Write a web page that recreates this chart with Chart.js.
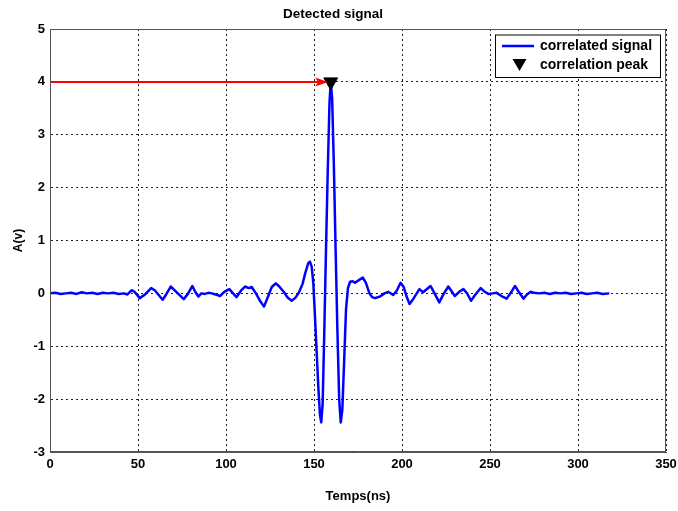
<!DOCTYPE html>
<html>
<head>
<meta charset="utf-8">
<script src="https://cdn.jsdelivr.net/npm/chart.js@4.4.1/dist/chart.umd.min.js"></script>
<style>
  html, body { margin: 0; padding: 0; background: #fff; }
  #wrap { width: 678px; height: 511px; }
</style>
</head>
<body>
<div id="wrap"><canvas id="signalChart"></canvas></div>
<script>
// Values
const timeNs = [
  0, 3, 6, 9, 12, 15, 18, 21, 24, 27, 30, 33, 36, 39, 42, 44,
  46.5, 48, 51, 54, 57.5, 59.5, 64, 66, 68.6, 71, 76, 78.5, 80.9, 82.5, 84.3,
  86, 88, 90, 92, 94, 96.6, 99, 101.9, 104, 106, 108.5, 110.8, 113, 114.6,
  117, 119.5, 121.6, 124, 126, 128.3, 130, 133, 135, 137.3, 139.5, 141.5,
  143.5, 145, 146.7, 147.7, 148.7, 149.6, 150.5, 151.5, 152.5, 153.4, 154.1,
  154.9, 155.8, 156.8, 157.8, 158.8, 159.5, 160.3, 161.3, 162.3, 163.3, 164.3,
  165.2, 166.1, 167.1, 168.2, 169.3, 170.5, 172, 173.3, 175.5, 177.7, 179.5,
  181.5, 183, 184.7, 187.5, 190, 192.2, 195, 197, 199.2, 201, 202.5, 204.3,
  206.5, 209.9, 212, 216.2, 218.5, 221.2, 223.5, 226.3, 228, 230, 232.5,
  234.9, 237, 239.2, 241.5, 244.7, 247, 249, 251.5, 253.8, 256.5, 259.5, 262,
  264.2, 266.5, 269, 271, 273.1, 275, 278, 281, 284, 287, 290, 293, 296, 299,
  302, 305, 308, 311, 314, 317.8
];
const amplitude = [
  0.0, 0.01, -0.01, 0.0, 0.01, -0.01, 0.02, 0.0, 0.01, -0.01, 0.01, 0.0, 0.01, -0.01, 0.0, -0.02,
  0.06, 0.03, -0.09, -0.02, 0.1, 0.06, -0.12, -0.02, 0.13, 0.05, -0.11, 0.0, 0.14, 0.03, -0.06,
  0.0, -0.01, 0.01, 0.0, -0.02, -0.05, 0.03, 0.08, 0.0, -0.07, 0.05, 0.13, 0.1, 0.12,
  0.0, -0.15, -0.25, -0.05, 0.12, 0.19, 0.14, 0.02, -0.08, -0.14, -0.08, 0.02,
  0.18, 0.38, 0.57, 0.6, 0.5, 0.2, -0.4, -1.1, -1.8, -2.3, -2.44,
  -2.1, -0.8, 0.8, 2.3, 3.6, 4.0, 3.7, 2.4, 0.8, -0.7, -2.0,
  -2.44, -2.2, -1.3, -0.3, 0.1, 0.22, 0.23, 0.2, 0.25, 0.3, 0.2,
  0.0, -0.07, -0.09, -0.06, 0.0, 0.03, -0.03, 0.05, 0.2, 0.12, -0.05, -0.2,
  -0.1, 0.08, 0.02, 0.14, 0.0, -0.17, -0.02, 0.13, 0.05, -0.05, 0.03,
  0.08, 0.0, -0.14, -0.03, 0.1, 0.03, -0.01, 0.0, 0.01, -0.05, -0.1, 0.02,
  0.14, 0.02, -0.1, -0.02, 0.03, 0.01, 0.0, 0.01, -0.01, 0.01, 0.0, 0.01, -0.01, 0.0,
  0.01, -0.01, 0.0, 0.01, -0.01, 0.0
];
const peakTime = [159.5];
const peakValue = [4.0];
const arrowX = [0, 158];
const arrowY = [4, 4];
const xTicks = [0, 50, 100, 150, 200, 250, 300, 350];
const yTicks = [-3, -2, -1, 0, 1, 2, 3, 4, 5];
const legendLabels = ['correlated signal', 'correlation peak'];

const toPoints = (xs, ys) => xs.map((x, i) => ({ x: x, y: ys[i] }));
const boldFont = (size) => ({ family: 'Liberation Sans, Arial, sans-serif', size: size, weight: 'bold' });

// frame box + arrow head + legend, drawn on top of the chart
const matlabDecor = {
  id: 'matlabDecor',
  afterDatasetsDraw(chart) {
    const { ctx, scales } = chart;
    ctx.save();
    // arrow head
    const x0 = scales.x.getPixelForValue(arrowX[0]);
    const x1 = scales.x.getPixelForValue(arrowX[1]);
    const y1 = scales.y.getPixelForValue(arrowY[1]);
    const dir = x1 > x0 ? 1 : -1;
    ctx.fillStyle = '#ff0000';
    ctx.beginPath();
    ctx.moveTo(x1, y1);
    ctx.lineTo(x1 - dir * 13, y1 - 4.5);
    ctx.lineTo(x1 - dir * 10, y1);
    ctx.lineTo(x1 - dir * 13, y1 + 4.5);
    ctx.closePath();
    ctx.fill();
    ctx.restore();
  },
  afterDraw(chart) {
    const { ctx, chartArea: a } = chart;
    ctx.save();
    // box around the axes
    ctx.strokeStyle = '#555';
    ctx.lineWidth = 1;
    ctx.strokeRect(a.left + 0.5, a.top + 0.5, a.right - a.left - 1, a.bottom - a.top - 1);

    // legend
    const bx = 495, by = 34.5, bw = 166, bh = 43.5;
    ctx.fillStyle = '#fff';
    ctx.fillRect(bx, by, bw, bh);
    ctx.strokeStyle = '#000';
    ctx.strokeRect(bx + 0.5, by + 0.5, bw - 1, bh - 1);

    ctx.strokeStyle = '#0000ff';
    ctx.lineWidth = 2.5;
    ctx.beginPath();
    ctx.moveTo(502, 46);
    ctx.lineTo(534, 46);
    ctx.stroke();

    ctx.fillStyle = '#000';
    ctx.beginPath();
    ctx.moveTo(512.5, 59);
    ctx.lineTo(526.5, 59);
    ctx.lineTo(519.5, 71);
    ctx.closePath();
    ctx.fill();

    ctx.font = 'bold 14px "Liberation Sans", Arial, sans-serif';
    ctx.textBaseline = 'middle';
    ctx.textAlign = 'left';
    ctx.fillText(legendLabels[0], 540, 46);
    ctx.fillText(legendLabels[1], 540, 65);
    ctx.restore();
  }
};

const ctx = document.getElementById('signalChart');

new Chart(ctx, {
  type: 'line',
  data: {
    datasets: [
      {
        label: legendLabels[1],
        data: toPoints(peakTime, peakValue),
        showLine: false,
        pointStyle: 'triangle',
        rotation: 180,
        pointRadius: 8,
        pointBackgroundColor: '#000',
        pointBorderColor: '#000',
        pointBorderWidth: 1
      },
      {
        label: 'arrow',
        data: toPoints(arrowX, arrowY),
        borderColor: '#ff0000',
        borderWidth: 2,
        pointRadius: 0,
        tension: 0
      },
      {
        label: legendLabels[0],
        data: toPoints(timeNs, amplitude),
        borderColor: '#0000ff',
        borderWidth: 2.5,
        pointRadius: 0,
        tension: 0,
        borderJoinStyle: 'round'
      }
    ]
  },
  options: {
    responsive: true,
    maintainAspectRatio: false,
    animation: false,
    events: [],
    layout: {
      padding: { left: 0, right: 12, top: 0, bottom: 0 }
    },
    plugins: {
      legend: { display: false },
      tooltip: { enabled: false },
      title: {
        display: true,
        text: 'Detected signal',
        color: '#000',
        font: boldFont(13.5),
        padding: { top: 6, bottom: 6.8 }
      }
    },
    scales: {
      x: {
        type: 'linear',
        min: 0,
        max: 350,
        afterBuildTicks(scale) {
          scale.ticks = xTicks.map(v => ({ value: v }));
        },
        afterFit(scale) {
          scale.height = 59;
          scale.paddingLeft = 0;
          scale.paddingRight = 0;
        },
        ticks: {
          color: '#000',
          font: boldFont(13),
          padding: 5,
          maxRotation: 0
        },
        grid: {
          color: '#222',
          lineWidth: 1,
          drawTicks: false
        },
        border: { color: '#555', width: 1, dash: [2, 3] },
        title: {
          display: true,
          text: 'Temps(ns)',
          color: '#000',
          font: boldFont(13),
          padding: { top: 0, bottom: 7 }
        }
      },
      y: {
        min: -3,
        max: 5,
        afterBuildTicks(scale) {
          scale.ticks = yTicks.map(v => ({ value: v }));
        },
        afterFit(scale) { scale.width = 50; },
        ticks: {
          color: '#000',
          font: boldFont(13),
          padding: 5
        },
        grid: {
          color: '#222',
          lineWidth: 1,
          drawTicks: false
        },
        border: { color: '#555', width: 1, dash: [2, 3] },
        title: {
          display: true,
          text: 'A(v)',
          color: '#000',
          font: boldFont(12),
          padding: { top: 11, bottom: 0 }
        }
      }
    }
  },
  plugins: [matlabDecor]
});
</script>
</body>
</html>
